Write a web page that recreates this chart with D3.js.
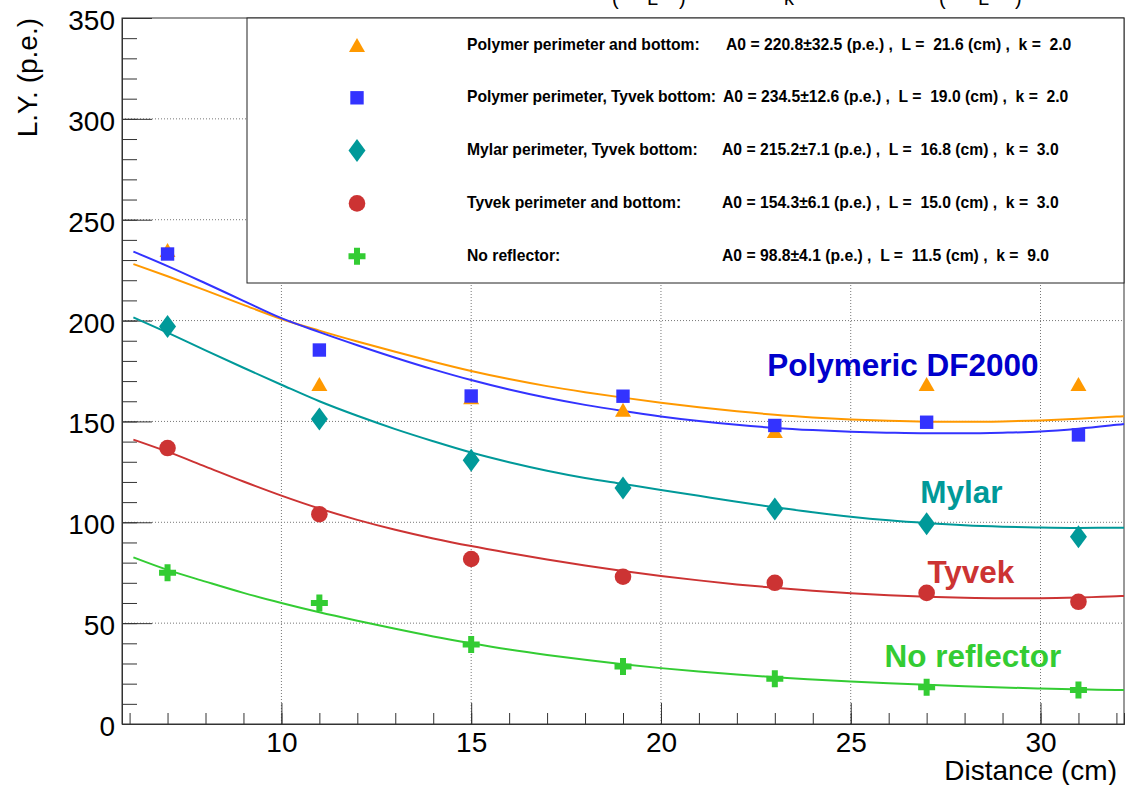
<!DOCTYPE html>
<html>
<head>
<meta charset="utf-8">
<script src="https://cdnjs.cloudflare.com/ajax/libs/d3/7.8.5/d3.min.js"></script>
<style>
body { margin: 0; background: #fff; }
svg { display: block; font-family: "Liberation Sans", Arial, Helvetica, sans-serif; }
.grid line { stroke: #777; stroke-width: 1; stroke-dasharray: 1,2; }
.axis path, .axis line { stroke: #333; stroke-width: 1; }
.axis text { font-size: 28px; fill: #000; font-family: "Liberation Sans", Arial, sans-serif; }
.legend text { font-weight: bold; font-size: 15.7px; white-space: pre; }
</style>
</head>
<body>
<script>

var width = 1129,
    height = 785;

// measured points (distance in cm, light yield in p.e.)
var distance   = [7, 11, 15, 19, 23, 27, 31];
var lyPolymer  = [235, 168.6, 162, 155.8, 145.2, 168.6, 168.6];
var lyPolTyvek = [233, 185.4, 162.6, 162.5, 148, 149.6, 143.3];
var lyMylar    = [197, 151.2, 130.8, 117, 106.6, 99.3, 92.8];
var lyTyvek    = [136.8, 104, 81.8, 73, 70, 65, 60.6];
var lyNone     = [75, 60, 39.4, 28.5, 22.4, 18.2, 16.8];

// fitted curves
var fitDistance   = [6.1, 7, 8, 9, 10, 11, 12, 13, 14, 15, 16, 17, 18, 19, 20, 21, 22, 23, 24, 25, 26, 27, 28, 29, 30, 31, 32, 32.2];
var fitPolymer    = [228, 222, 215, 207.8, 200.8, 195, 189.6, 184.5, 179.6, 175, 171, 167.5, 164.5, 161.8, 159.3, 157, 155, 153.3, 152, 151, 150.3, 149.9, 149.8, 150, 150.5, 151.3, 152.4, 152.6];
var fitPolTyvek   = [234.2, 227, 218.5, 209.8, 201.2, 194.3, 187.8, 181.6, 175.8, 170.5, 165.8, 161.7, 158.2, 155.2, 152.5, 150.2, 148.3, 146.8, 145.7, 144.9, 144.4, 144.1, 144.1, 144.4, 145, 146.4, 148.3, 148.7];
var fitMylar      = [201.6, 194, 185.2, 176.6, 168.2, 160, 152.8, 146.2, 140.2, 134.6, 129.8, 125.6, 122, 119, 116, 113.1, 110.2, 107.4, 105, 102.8, 101, 99.6, 98.5, 97.8, 97.4, 97.2, 97.3, 97.3];
var fitTyvek      = [141, 135, 127.6, 120.2, 113.2, 106.8, 101.2, 96.3, 92, 88.2, 84.8, 81.6, 78.6, 75.9, 73.4, 71.2, 69.2, 67.5, 66, 64.8, 63.8, 63.1, 62.6, 62.4, 62.4, 62.7, 63.3, 63.5];
var fitNone       = [82.6, 76.4, 70.6, 65, 60, 55.4, 51.2, 47.2, 43.4, 40, 36.9, 34.2, 31.8, 29.6, 27.7, 26, 24.5, 23.2, 22.1, 21.1, 20.2, 19.4, 18.7, 18.1, 17.6, 17.2, 16.9, 16.9];

var seriesNames = [
  "Polymer perimeter and bottom:",
  "Polymer perimeter, Tyvek bottom:",
  "Mylar perimeter, Tyvek bottom:",
  "Tyvek perimeter and bottom:",
  "No reflector:"
];
var seriesParams = [
  "A0 = 220.8\u00b132.5 (p.e.) ,  L =  21.6 (cm) ,  k =  2.0",
  "A0 = 234.5\u00b112.6 (p.e.) ,  L =  19.0 (cm) ,  k =  2.0",
  "A0 = 215.2\u00b17.1 (p.e.) ,  L =  16.8 (cm) ,  k =  3.0",
  "A0 = 154.3\u00b16.1 (p.e.) ,  L =  15.0 (cm) ,  k =  3.0",
  "A0 = 98.8\u00b14.1 (p.e.) ,  L =  11.5 (cm) ,  k =  9.0"
];
var curveLabels = ["Polymeric DF2000", "Mylar", "Tyvek", "No reflector"];

var xTicks = [10, 15, 20, 25, 30];
var yTicks = [0, 50, 100, 150, 200, 250, 300, 350];

var colors = ["#ff9900", "#3333ff", "#009999", "#cc3333", "#33cc33"];
var symbols = ["triangle", "square", "diamond", "circle", "cross"];
var labelColors = ["#0000cc", "#009999", "#cc3333", "#33cc33"];

var points = [lyPolymer, lyPolTyvek, lyMylar, lyTyvek, lyNone];
var fits = [fitPolymer, fitPolTyvek, fitMylar, fitTyvek, fitNone];

var svg = d3.select("body").append("svg").attr("width", width).attr("height", height);

var x = d3.scaleLinear().domain([5.8, 32.2]).range([122, 1124]);
var y = d3.scaleLinear().domain([0, 350]).range([724, 18]);

// grid
svg.append("g").attr("class", "grid")
  .selectAll("line").data(xTicks).join("line")
    .attr("x1", function(d){ return x(d); }).attr("x2", function(d){ return x(d); })
    .attr("y1", y(0)).attr("y2", y(350));
svg.append("g").attr("class", "grid")
  .selectAll("line").data(yTicks.slice(1, -1)).join("line")
    .attr("x1", x(5.8)).attr("x2", x(32.2))
    .attr("y1", function(d){ return y(d); }).attr("y2", function(d){ return y(d); });

// axes, ticks pointing inside the frame
svg.append("g").attr("class", "axis")
    .attr("transform", "translate(" + x(5.8) + ",0)")
    .call(d3.axisLeft(y).tickValues(y.ticks(35)).tickSize(-15).tickFormat(""));
var yAxis = svg.append("g").attr("class", "axis")
    .attr("transform", "translate(" + x(5.8) + ",0)")
    .call(d3.axisLeft(y).tickValues(yTicks).tickSizeInner(-30).tickSizeOuter(0).tickPadding(7));
yAxis.selectAll("text").attr("dy", "0.41em");

svg.append("g").attr("class", "axis")
    .attr("transform", "translate(0," + y(0) + ")")
    .call(d3.axisBottom(x).tickValues(d3.range(6, 33)).tickSize(-11).tickFormat(""));
svg.append("g").attr("class", "axis")
    .attr("transform", "translate(0," + y(0) + ")")
    .call(d3.axisBottom(x).tickValues(xTicks).tickSizeInner(-21).tickSizeOuter(0).tickPadding(8));

svg.selectAll(".axis").attr("font-size", null).attr("font-family", null);

// frame
svg.append("rect")
    .attr("x", x(5.8)).attr("y", y(350))
    .attr("width", x(32.2) - x(5.8)).attr("height", y(0) - y(350))
    .attr("fill", "none").attr("stroke", "#333").attr("stroke-width", 1);

// fitted curves
var line = d3.line()
    .x(function(d){ return x(d[0]); })
    .y(function(d){ return y(d[1]); })
    .curve(d3.curveMonotoneX);

svg.append("g").selectAll("path").data(fits).join("path")
    .attr("d", function(d){ return line(d3.zip(fitDistance, d)); })
    .attr("fill", "none")
    .attr("stroke", function(d, i){ return colors[i]; })
    .attr("stroke-width", 2);

function marker(type){
  if (type == "triangle") return "M0,-7L8,7L-8,7Z";
  if (type == "square") return "M-6.7,-6.7H6.7V6.7H-6.7Z";
  if (type == "diamond") return "M0,-11.5L8.5,0L0,11.5L-8.5,0Z";
  if (type == "circle") return "M8.3,0A8.3,8.3 0 1,1 -8.3,0A8.3,8.3 0 1,1 8.3,0Z";
  return "M-3,-8.5H3V-3H8.5V3H3V8.5H-3V3H-8.5V-3H-3Z";
}

// markers
points.forEach(function(vals, i){
  svg.append("g").selectAll("path").data(vals).join("path")
      .attr("transform", function(d, j){ return "translate(" + x(distance[j]) + "," + y(d) + ")"; })
      .attr("d", marker(symbols[i]))
      .attr("fill", colors[i]);
});

// legend
var legend = svg.append("g").attr("class", "legend");
legend.append("rect")
    .attr("x", 247).attr("y", 18).attr("width", 877).attr("height", 265)
    .attr("fill", "#fff").attr("stroke", "#222").attr("stroke-width", 1);

var paramX = [726, 723, 722, 722, 722];
seriesNames.forEach(function(name, i){
  var cy = 45 + i * 52.8;
  legend.append("path")
      .attr("transform", "translate(357," + cy + ")")
      .attr("d", marker(symbols[i]))
      .attr("fill", colors[i]);
  legend.append("text").attr("x", 467).attr("y", cy + 4.5)
      .attr("textLength", i == 1 ? 249 : null).text(name);
  legend.append("text").attr("x", paramX[i]).attr("y", cy + 4.5)
      .attr("xml:space", "preserve").text(seriesParams[i]);
});

// curve labels
var labelPos = [[22.8, 172.5], [26.83, 109.6], [27.02, 69.9], [25.89, 28.3]];
svg.append("g").selectAll("text").data(curveLabels).join("text")
    .attr("x", function(d, i){ return x(labelPos[i][0]); })
    .attr("y", function(d, i){ return y(labelPos[i][1]); })
    .attr("fill", function(d, i){ return labelColors[i]; })
    .attr("font-weight", "bold")
    .attr("font-size", 31.5)
    .text(function(d){ return d; });

// axis titles
svg.append("text")
    .attr("transform", "translate(37,18) rotate(-90)")
    .attr("text-anchor", "end")
    .attr("font-size", 28)
    .text("L.Y. (p.e.)");
svg.append("text")
    .attr("x", 1117).attr("y", 780)
    .attr("text-anchor", "end")
    .attr("font-size", 28)
    .text("Distance (cm)");

// bottom of the formula that is cut off at the top edge
var formula = [["(", 612], ["L", 647], [")", 679], ["k", 784], ["(", 939], ["L", 978], [")", 1015]];
svg.append("g").selectAll("text").data(formula).join("text")
    .attr("x", function(d){ return d[1]; })
    .attr("y", 5)
    .attr("font-size", 20)
    .text(function(d){ return d[0]; });

</script>
</body>
</html>
